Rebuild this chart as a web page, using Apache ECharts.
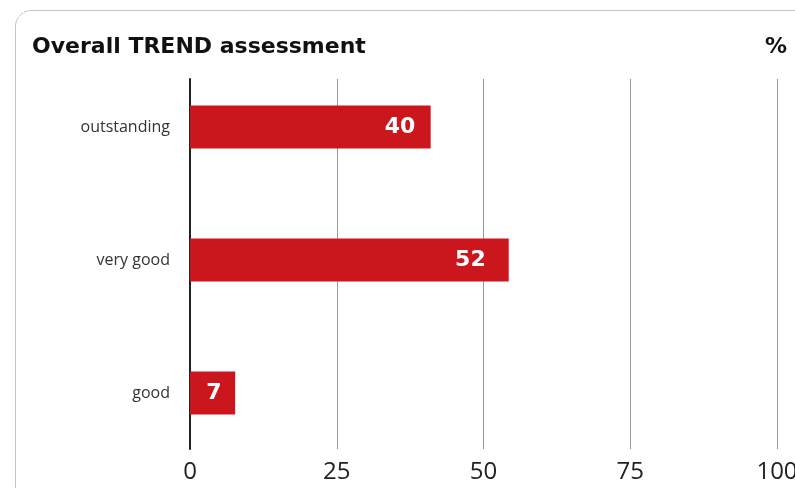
<!DOCTYPE html>
<html>
<head>
<meta charset="utf-8">
<script src="https://cdn.jsdelivr.net/npm/echarts@6/dist/echarts.min.js"></script>
<style>html,body{margin:0;padding:0;background:#fff}#c{width:795px;height:488px}</style>
</head>
<body>
<div id="c"></div>
<script>
var categories = ['outstanding', 'very good', 'good'];
var barValues = [41, 54.3, 7.7];
var labelValues = [40, 52, 7];
var tickValues = [0, 25, 50, 75, 100];

var chart = echarts.init(document.getElementById('c'), null, {renderer: 'canvas'});
var option = {
  animation: false,
  backgroundColor: '#fff',
  graphic: [{
    type: 'rect', z: -10, silent: true,
    shape: {x: 15.5, y: 10.5, width: 820, height: 520, r: 16},
    style: {fill: 'none', stroke: '#8a8a8a', lineWidth: 1, lineDash: [1, 1]}
  }],
  title: [
    {text: 'Overall TREND assessment', left: 32, top: 36, padding: 0,
     textStyle: {fontFamily: 'DejaVu Sans', fontWeight: 'bold', fontSize: 22, color: '#111'}},
    {text: '%', right: 8, top: 36, padding: 0,
     textStyle: {fontFamily: 'DejaVu Sans', fontWeight: 'bold', fontSize: 22, color: '#111'}}
  ],
  grid: [
    {left: 190, right: 18, top: 79, bottom: 39, outerBoundsMode: 'none', containLabel: false},
    {left: 190, right: 18, top: 60.5, height: 399, outerBoundsMode: 'none', containLabel: false}
  ],
  xAxis: [
    {gridIndex: 0, type: 'value', min: tickValues[0], max: tickValues[tickValues.length - 1], interval: 25,
     axisLine: {show: false}, axisTick: {show: false},
     splitLine: {show: true, lineStyle: {color: '#999', width: 1}},
     axisLabel: {margin: 11, fontFamily: 'Open Sans', fontSize: 24, color: '#222'}},
    {gridIndex: 1, type: 'value', min: 0, max: 100, show: false, splitLine: {show: false}}
  ],
  yAxis: [
    {gridIndex: 0, type: 'category', inverse: true, data: categories,
     axisLine: {show: true, lineStyle: {color: '#222', width: 2}},
     axisTick: {show: false}, axisLabel: {show: false}, splitLine: {show: false}},
    {gridIndex: 1, type: 'category', inverse: true, data: categories,
     axisLine: {show: false}, axisTick: {show: false},
     axisLabel: {margin: 20, fontFamily: 'Open Sans', fontSize: 16, color: '#333'}}
  ],
  series: [
    {type: 'bar', xAxisIndex: 1, yAxisIndex: 1, data: barValues, barWidth: 43,
     itemStyle: {color: '#cc161e'}, z: 3},
    {type: 'scatter', xAxisIndex: 1, yAxisIndex: 1, data: labelValues, symbolSize: 1,
     itemStyle: {color: 'rgba(0,0,0,0)', opacity: 1}, z: 4, emphasis: {disabled: true},
     label: {show: true, position: 'left', distance: 9, color: '#ffffff', opacity: 1,
       fontFamily: 'DejaVu Sans', fontWeight: 'bold', fontSize: 22}}
  ]
};
chart.setOption(option);
</script>
</body>
</html>
